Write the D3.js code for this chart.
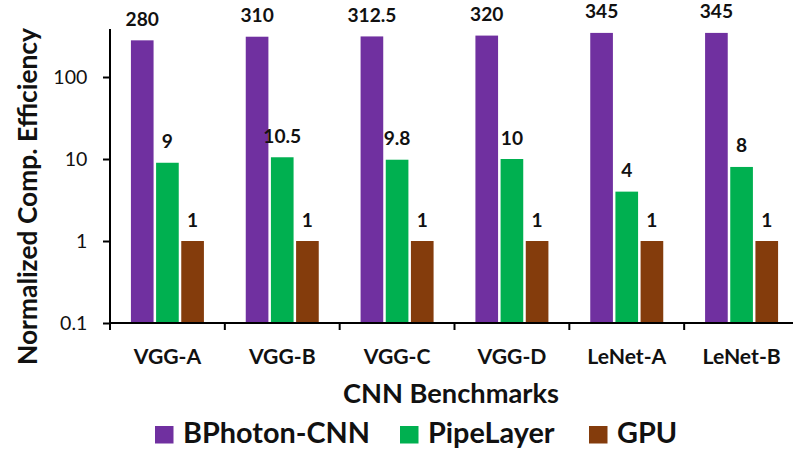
<!DOCTYPE html>
<html>
<head>
<meta charset="utf-8">
<script src="https://cdn.jsdelivr.net/npm/d3@7/dist/d3.min.js"></script>
<style>
  html, body { margin: 0; padding: 0; background: #fff; }
  svg { display: block; font-family: Lato, "Open Sans", sans-serif; }
</style>
</head>
<body>
<svg id="chart" width="793" height="451"></svg>
<script>
// CNN benchmarks and the three accelerators compared on each
const categories = ["VGG-A", "VGG-B", "VGG-C", "VGG-D", "LeNet-A", "LeNet-B"];
const seriesNames = ["BPhoton-CNN", "PipeLayer", "GPU"];
const seriesColors = ["#7030A0", "#00B050", "#843C0C"];

// Normalized computational efficiency (GPU = 1)
const bphotonValues = [280, 310, 312.5, 320, 345, 345];
const pipelayerValues = [9, 10.5, 9.8, 10, 4, 8];
const gpuValues = [1, 1, 1, 1, 1, 1];

// Value labels printed above the bars
const bphotonLabels = ["280", "310", "312.5", "320", "345", "345"];
const pipelayerLabels = ["9", "10.5", "9.8", "10", "4", "8"];
const gpuLabels = ["1", "1", "1", "1", "1", "1"];

// Log axis ticks
const yTickValues = [0.1, 1, 10, 100];
const yTickLabels = ["0.1", "1", "10", "100"];

const seriesValues = [bphotonValues, pipelayerValues, gpuValues];
const seriesLabels = [bphotonLabels, pipelayerLabels, gpuLabels];

const svg = d3.select("#chart");

const plotLeft = 110, plotRight = 799, plotTop = 29, plotBottom = 323;

// Scale a text selection's font so that one sample node spans the given width
function fitFont(sel, sampleNode, width) {
  const fs = parseFloat(d3.select(sampleNode).attr("font-size"));
  const w = sampleNode.getComputedTextLength();
  if (w > 0) sel.attr("font-size", (fs * width / w).toFixed(2));
}

const x0 = d3.scaleBand().domain(categories).range([plotLeft, plotRight]);
const groupWidth = 73;
const x1 = d3.scaleBand().domain(seriesNames).range([0, groupWidth]).paddingInner(0.1);
const groupOffset = (x0.bandwidth() - groupWidth) / 2;

const y = d3.scaleLog().domain([0.1, 385]).range([plotBottom, plotTop]);

// Bars
const rows = categories.map((c, i) => seriesNames.map((s, j) => ({
  cat: c, series: s, color: seriesColors[j],
  value: seriesValues[j][i], label: seriesLabels[j][i]
})));

const groups = svg.append("g").selectAll("g")
  .data(rows).join("g")
  .attr("transform", d => `translate(${x0(d[0].cat) + groupOffset},0)`);

groups.selectAll("rect")
  .data(d => d).join("rect")
  .attr("x", d => x1(d.series))
  .attr("width", x1.bandwidth())
  .attr("y", d => y(d.value))
  .attr("height", d => y(0.1) - y(d.value))
  .attr("fill", d => d.color);

const valueText = groups.selectAll("text")
  .data(d => d).join("text")
  .attr("x", d => x1(d.series) + x1.bandwidth() / 2)
  .attr("y", d => y(d.value) - 14.5)
  .attr("text-anchor", "middle")
  .attr("font-size", 18)
  .attr("font-weight", "bold")
  .attr("fill", "#111")
  .text(d => d.label);
fitFont(valueText, valueText.filter(d => d.label === "312.5").node(), 49);

// Y axis (log)
const yAxis = svg.append("g")
  .attr("transform", `translate(${plotLeft},0)`)
  .call(d3.axisLeft(y)
    .tickValues(yTickValues)
    .tickFormat((d, i) => yTickLabels[i])
    .tickSize(7)
    .tickSizeOuter(0)
    .tickPadding(15.7));
yAxis.select(".domain").attr("stroke", "#000").attr("stroke-width", 2)
  .attr("d", `M0,${plotTop}V${plotBottom + 7}`);
yAxis.selectAll(".tick line").attr("stroke", "#000").attr("stroke-width", 2);
const yTickText = yAxis.selectAll(".tick text")
  .attr("font-size", 19)
  .attr("font-family", "Lato, sans-serif")
  .attr("fill", "#111");
fitFont(yTickText, yTickText.filter(d => d === 100).node(), 34);

// X axis: labels at category centres, tick marks on category boundaries
const xAxis = svg.append("g")
  .attr("transform", `translate(0,${plotBottom})`)
  .call(d3.axisBottom(x0).tickSize(0).tickSizeOuter(0).tickPadding(25.5));
xAxis.select(".domain").attr("stroke", "#000").attr("stroke-width", 2)
  .attr("d", `M${plotLeft},0H${plotRight}`);
const xTickText = xAxis.selectAll(".tick text")
  .attr("font-size", 21)
  .attr("font-weight", "bold")
  .attr("font-family", "Lato, sans-serif")
  .attr("fill", "#111");
fitFont(xTickText, xTickText.filter(d => d === "VGG-A").node(), 67.5);
xAxis.append("g").selectAll("line")
  .data(categories).join("line")
  .attr("x1", d => x0(d)).attr("x2", d => x0(d))
  .attr("y1", 0).attr("y2", 7)
  .attr("stroke", "#000").attr("stroke-width", 2);

// Axis titles
const xTitle = svg.append("text")
  .attr("x", 451).attr("y", 402.7)
  .attr("text-anchor", "middle")
  .attr("font-size", 22.5)
  .attr("font-weight", "bold")
  .attr("fill", "#111")
  .text("CNN Benchmarks");
fitFont(xTitle, xTitle.node(), 216);

const yTitle = svg.append("text")
  .attr("transform", "translate(37,196.5) rotate(-90)")
  .attr("text-anchor", "middle")
  .attr("font-size", 22.5)
  .attr("font-weight", "bold")
  .attr("fill", "#111")
  .text("Normalized Comp. Efficiency");
fitFont(yTitle, yTitle.node(), 337);

// Legend
const legendX = [155, 400, 589];
const legend = svg.append("g").selectAll("g")
  .data(seriesNames).join("g")
  .attr("transform", (d, i) => `translate(${legendX[i]},426)`);
legend.append("rect")
  .attr("width", 18.5).attr("height", 17.5)
  .attr("fill", (d, i) => seriesColors[i]);
const legendText = legend.append("text")
  .attr("x", 28).attr("y", 17.3)
  .attr("font-size", 24.5)
  .attr("font-weight", "bold")
  .attr("fill", "#111")
  .text(d => d);
fitFont(legendText, legendText.filter(d => d === "BPhoton-CNN").node(), 187);
</script>
</body>
</html>
